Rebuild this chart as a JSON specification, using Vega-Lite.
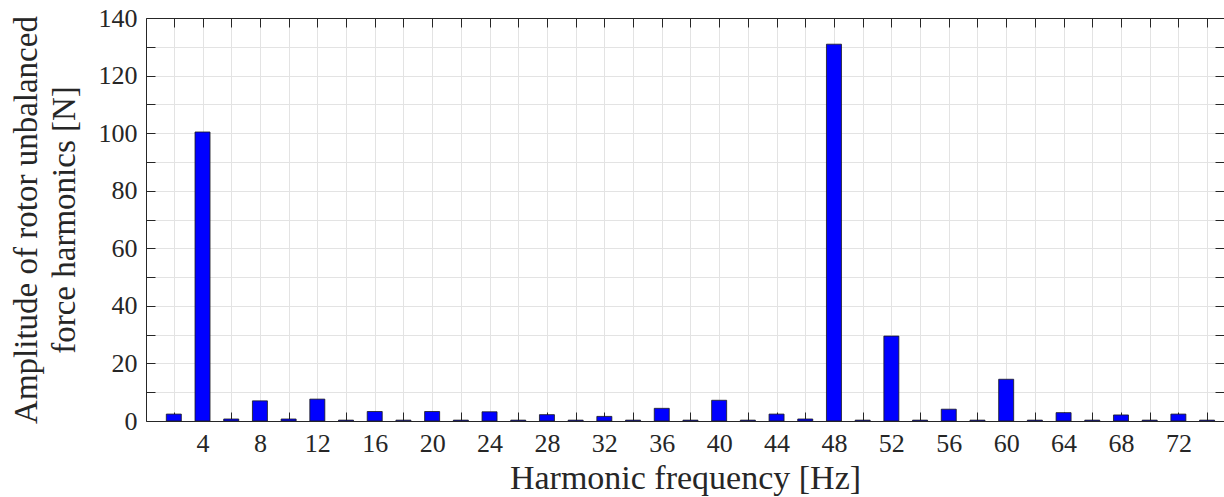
{
  "$schema": "https://vega.github.io/schema/vega-lite/v6.json",
  "width": 1078,
  "height": 403,
  "autosize": "none",
  "padding": {"left": 146, "top": 18, "right": 0, "bottom": 76},
  "background": "white",
  "config": {
    "view": {"stroke": null},
    "axis": {
      "labelFont": "Liberation Serif",
      "titleFont": "Liberation Serif",
      "labelFontSize": 26,
      "titleFontSize": 33,
      "labelColor": "#262626",
      "titleColor": "#262626",
      "titleFontWeight": "normal",
      "domainColor": "#262626",
      "tickColor": "#262626",
      "gridColor": "#e3e3e3",
      "gridWidth": 1,
      "domainWidth": 1,
      "tickWidth": 1
    }
  },
  "data": {
    "values": [
      {"f": 2, "amp": 2.4}, {"f": 4, "amp": 100.4}, {"f": 6, "amp": 0.7}, {"f": 8, "amp": 7.0},
      {"f": 10, "amp": 0.7}, {"f": 12, "amp": 7.6}, {"f": 14, "amp": 0.3}, {"f": 16, "amp": 3.3},
      {"f": 18, "amp": 0.3}, {"f": 20, "amp": 3.3}, {"f": 22, "amp": 0.3}, {"f": 24, "amp": 3.2},
      {"f": 26, "amp": 0.3}, {"f": 28, "amp": 2.2}, {"f": 30, "amp": 0.3}, {"f": 32, "amp": 1.6},
      {"f": 34, "amp": 0.3}, {"f": 36, "amp": 4.4}, {"f": 38, "amp": 0.3}, {"f": 40, "amp": 7.2},
      {"f": 42, "amp": 0.3}, {"f": 44, "amp": 2.4}, {"f": 46, "amp": 0.7}, {"f": 48, "amp": 130.9},
      {"f": 50, "amp": 0.3}, {"f": 52, "amp": 29.5}, {"f": 54, "amp": 0.3}, {"f": 56, "amp": 4.1},
      {"f": 58, "amp": 0.3}, {"f": 60, "amp": 14.5}, {"f": 62, "amp": 0.3}, {"f": 64, "amp": 2.9},
      {"f": 66, "amp": 0.3}, {"f": 68, "amp": 2.1}, {"f": 70, "amp": 0.3}, {"f": 72, "amp": 2.4},
      {"f": 74, "amp": 0.3}
    ]
  },
  "layer": [
    {
      "mark": {"type": "bar", "size": 15, "color": "#0000ff", "stroke": "#1a1a1a", "strokeWidth": 0.8, "clip": true},
      "encoding": {
        "x": {
          "field": "f", "type": "quantitative",
          "scale": {"domain": [0.41, 74.83], "nice": false, "zero": false},
          "axis": {
            "orient": "bottom",
            "values": [2,4,6,8,10,12,14,16,18,20,22,24,26,28,30,32,34,36,38,40,42,44,46,48,50,52,54,56,58,60,62,64,66,68,70,72,74],
            "labelExpr": "datum.value % 4 == 0 ? datum.label : ''",
            "tickSize": -9,
            "labelPadding": 18,
            "grid": true,
            "title": "Harmonic frequency [Hz]",
            "titleFontSize": 34,
            "titlePadding": 5
          }
        },
        "y": {
          "field": "amp", "type": "quantitative",
          "scale": {"domain": [0, 140], "nice": false},
          "axis": {
            "orient": "left",
            "values": [0,10,20,30,40,50,60,70,80,90,100,110,120,130,140],
            "labelExpr": "datum.value % 20 == 0 ? datum.label : ''",
            "tickSize": -9,
            "labelPadding": 18,
            "grid": true,
            "title": ["Amplitude of rotor unbalanced", "force harmonics [N]"],
            "titlePadding": 17,
            "titleLineHeight": 38
          }
        }
      }
    },
    {
      "mark": {"type": "bar", "size": 15, "opacity": 0},
      "encoding": {
        "x": {
          "field": "f", "type": "quantitative",
          "axis": {
            "orient": "top",
            "values": [2,4,6,8,10,12,14,16,18,20,22,24,26,28,30,32,34,36,38,40,42,44,46,48,50,52,54,56,58,60,62,64,66,68,70,72,74],
            "labels": false,
            "tickSize": -9,
            "grid": false,
            "title": null
          }
        },
        "y": {
          "field": "amp", "type": "quantitative",
          "axis": {
            "orient": "right",
            "values": [0,10,20,30,40,50,60,70,80,90,100,110,120,130,140],
            "labels": false,
            "tickSize": -9,
            "grid": false,
            "title": null
          }
        }
      }
    }
  ],
  "resolve": {"axis": {"x": "independent", "y": "independent"}}
}
